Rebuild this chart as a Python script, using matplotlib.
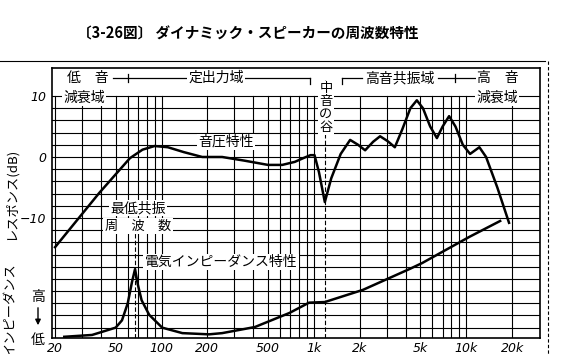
import matplotlib.pyplot as plt
from matplotlib.lines import Line2D

plt.rcParams['font.family'] = ['Noto Sans CJK JP', 'DejaVu Sans']

# 音圧特性 (dB)
resp_f = [20, 39, 62, 75, 90, 110, 140, 185, 250, 350, 500, 620, 750, 850,
          950, 1010, 1080, 1180, 1300, 1500, 1730, 1950, 2170, 2450, 2720,
          3050, 3400, 3800, 4300, 4740, 5200, 5800, 6420, 7000, 7720, 8500,
          9500, 10600, 12200, 13500, 16000, 19100]
resp_db = [-14.8, -5.9, -0.2, 1.2, 1.8, 1.6, 0.8, 0.0, 0.0, -0.6, -1.3, -1.3,
           -0.8, -0.2, 0.3, 0.3, -2.5, -7.4, -3.5, 0.5, 2.8, 2.0, 1.1, 2.5,
           3.4, 2.6, 1.6, 4.5, 8.0, 9.3, 8.0, 5.0, 3.1, 5.0, 6.7, 5.0, 2.0,
           0.5, 1.6, 0.0, -5.0, -10.8]

# 電気インピーダンス特性 (relative, drawn on the same grid)
imp_f = [23, 35, 50, 55, 60, 64, 67, 70, 74, 83, 101, 137, 205, 250, 410,
         690, 930, 1180, 2100, 4230, 5140, 10500, 16700]
imp_rel = [-29.5, -29.2, -28.0, -26.8, -24.0, -20.5, -18.4, -21.0, -23.5,
           -25.9, -28.0, -28.9, -29.1, -28.9, -27.9, -25.6, -23.9, -23.8,
           -21.8, -18.4, -17.4, -13.1, -10.5]

xticks = [20, 50, 100, 200, 500, 1000, 2000, 5000, 10000, 20000]
xlabels = ['20', '50', '100', '200', '500', '1k', '2k', '5k', '10k', '20k']

W, H = 571, 354
fig = plt.figure(figsize=(W / 100, H / 100), dpi=100)
ax = fig.add_axes([52 / W, 16 / H, 488 / W, 270 / H])
ax.set_xscale('log')
ax.set_xlim(19.1, 30500)
ax.set_ylim(-29.7, 14.6)


def P(x, y):
    return x / W, 1 - y / H


def line(x0, y0, x1, y1, **kw):
    kw.setdefault('color', 'black')
    kw.setdefault('lw', 0.9)
    fig.add_artist(Line2D([x0 / W, x1 / W], [1 - y0 / H, 1 - y1 / H], **kw))


def txt(x, y, s, size=10, **kw):
    fig.text(*P(x, y), s, fontsize=size, ha='center', va='center', **kw)


# grid
for d in range(-28, 11, 2):
    ax.axhline(d, color='black', lw=0.8, zorder=1)
for dec in [10, 100, 1000, 10000]:
    for m in range(1, 10):
        f = dec * m
        if 20 <= f <= 20000:
            ax.plot([f, f], [-29.7, 10], color='black', lw=0.8, zorder=1)
ax.plot([67, 67], [-29.7, -12], color='black', lw=0.8, ls=(0, (4, 2)), zorder=1)
ax.plot([1180, 1180], [-29.7, 13], color='black', lw=0.8, ls=(0, (4, 2)), zorder=1)

ax.plot(resp_f, resp_db, color='black', lw=1.8, zorder=3)
ax.plot(imp_f, imp_rel, color='black', lw=1.8, zorder=3)

for s in ax.spines.values():
    s.set_linewidth(1.2)
ax.set_xticks(xticks)
ax.set_xticklabels(xlabels, fontstyle='italic', fontsize=9, family='DejaVu Sans')
ax.minorticks_off()
ax.set_yticks([10, 0, -10])
ax.set_yticklabels(['10', '0', '−10'], fontstyle='italic', fontsize=9, family='DejaVu Sans')
ax.tick_params(length=0, pad=3)
ax.tick_params(axis='y', pad=4)

# title
txt(248, 33, '〔3-26図〕 ダイナミック・スピーカーの周波数特性', size=10.5, fontweight='bold')

# outer border (page)
line(0, 61, 545, 61, lw=0.8)
line(548, 61, 548, 354, lw=0.8, ls=(0, (3, 2)))

bb = dict(facecolor='white', edgecolor='none', pad=1)

# region labels in the top band
txt(88, 78, '低　音', bbox=bb)
line(113, 78, 190, 78)
line(128, 74, 128, 82)
txt(216, 78, '定出力域', bbox=bb)
line(243, 78, 310, 78)
line(310, 78, 310, 84)
txt(326, 108, '中\n音\nの\n谷', size=9.5, linespacing=1.0, bbox=bb)
line(342, 78, 342, 84)
line(342, 78, 362, 78)
txt(400, 78, '高音共振域', bbox=bb)
line(438, 78, 480, 78)
line(455, 74, 455, 82)
txt(498, 78, '高　音', bbox=bb)
txt(84, 98, '減衰域', bbox=bb)
txt(497, 98, '減衰域', bbox=bb)

txt(226, 142, '音圧特性', bbox=bb)
txt(138, 208, '最低共振', bbox=bb)
txt(138, 226, '周　波　数', size=9.5, bbox=bb)
txt(221, 262, '電気インピーダンス特性', bbox=bb)

# left axis labels
fig.text(*P(11, 194), 'レスポンス(dB)', rotation=90, fontsize=9.5, ha='center', va='center')
fig.text(*P(11, 262), 'インピーダンス', rotation=90, fontsize=9.5, ha='center', va='top')
txt(38, 297, '高')
fig.add_artist(plt.Annotation('', xy=P(38, 328), xytext=P(38, 305),
                              xycoords='figure fraction', textcoords='figure fraction',
                              arrowprops=dict(arrowstyle='-|>', color='black', lw=1, mutation_scale=8)))
txt(38, 340, '低')

fig.savefig('out.png', dpi=100)
